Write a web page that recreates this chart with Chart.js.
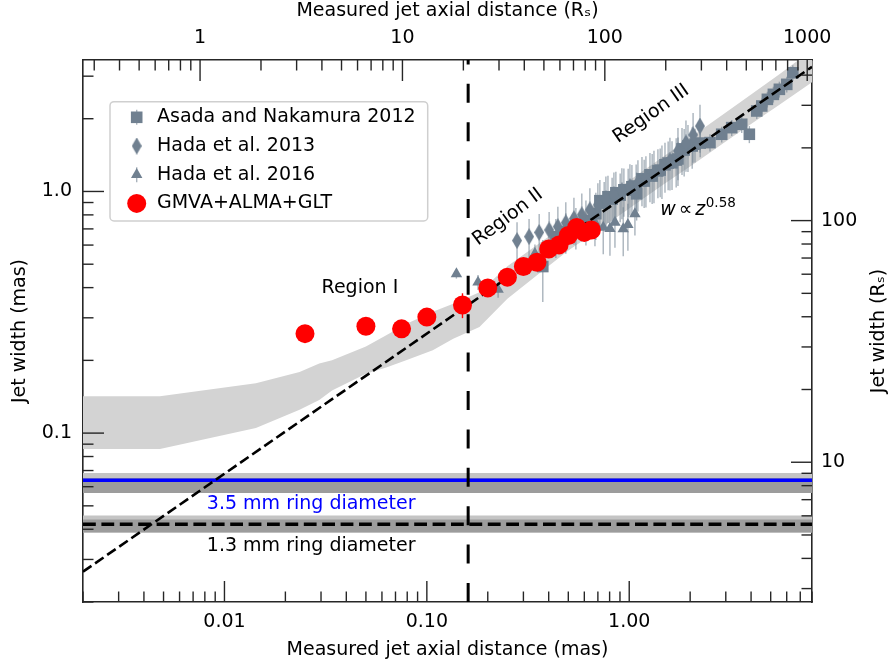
<!DOCTYPE html>
<html lang="en">
<head>
    <meta charset="UTF-8">
    <title>M87 jet width profile</title>
    <script src="https://cdn.jsdelivr.net/npm/chart.js"></script>
    <style>
        html, body { margin: 0; padding: 0; background: #fff; }
        #chart { display: block; }
    </style>
</head>
<body>
    <canvas id="chart" width="891" height="669"></canvas>

    <script>
        // axis limits (mas) and conversion to Schwarzschild radii
        const xRange = [0.002, 8];
        const yRange = [0.02, 3.5];
        const rsPerMas = 132;

        // labelled ticks
        const xTicks = [0.01, 0.1, 1];
        const xTickLabels = ['0.01', '0.10', '1.00'];
        const yTicks = [0.1, 1];
        const yTickLabels = ['0.1', '1.0'];
        const x2Ticks = [1, 10, 100, 1000];
        const x2TickLabels = ['1', '10', '100', '1000'];
        const y2Ticks = [10, 100];
        const y2TickLabels = ['10', '100'];

        // GMVA+ALMA+GLT
        const gmvaZ = [0.025, 0.05, 0.075, 0.1, 0.15, 0.2, 0.25, 0.3, 0.35, 0.4, 0.45, 0.5, 0.55, 0.6, 0.65];
        const gmvaW = [0.258, 0.277, 0.270, 0.302, 0.339, 0.399, 0.442, 0.489, 0.509, 0.578, 0.601, 0.657, 0.710, 0.677, 0.693];
        const gmvaErr = [0.02, 0.02, 0.02, 0.02, 0.04, 0.02, 0.02, 0.02, 0.03, 0.03, 0.03, 0.03, 0.03, 0.03, 0.03];

        // Asada and Nakamura 2012
        const asadaZ = [0.374, 0.434, 0.486, 0.545, 0.611, 0.684, 0.716, 0.752, 0.785, 0.823, 0.859, 0.902, 0.941, 0.988, 1.031, 1.082, 1.088, 1.156, 1.185, 1.266, 1.298, 1.386, 1.422, 1.502, 1.557, 1.627, 1.706, 1.741, 1.823, 1.868, 1.951, 2.047, 2.113, 2.242, 2.506, 2.864, 3.209, 3.596, 3.922, 4.267, 4.517, 4.815, 5.155, 5.519, 6.003, 6.43];
        const asadaW = [0.489, 0.650, 0.682, 0.715, 0.757, 0.809, 0.916, 0.895, 0.951, 0.930, 0.988, 0.966, 1.016, 1.013, 1.046, 1.053, 0.978, 1.128, 1.104, 1.172, 1.158, 1.217, 1.226, 1.289, 1.311, 1.314, 1.349, 1.363, 1.501, 1.484, 1.544, 1.542, 1.569, 1.586, 1.593, 1.725, 1.837, 1.897, 1.725, 2.153, 2.258, 2.406, 2.523, 2.647, 2.775, 3.098];
        const asadaErr = [0.14, 0.12, 0.13, 0.14, 0.16, 0.18, 0.20, 0.20, 0.21, 0.21, 0.22, 0.22, 0.23, 0.23, 0.24, 0.24, 0.22, 0.26, 0.25, 0.27, 0.27, 0.28, 0.28, 0.30, 0.30, 0.30, 0.31, 0.31, 0.33, 0.33, 0.34, 0.30, 0.25, 0.20, 0.13, 0.13, 0.14, 0.15, 0.14, 0.16, 0.17, 0.18, 0.19, 0.20, 0.21, 0.23];

        // Hada et al. 2013
        const hada13Z = [0.279, 0.320, 0.359, 0.402, 0.444, 0.486, 0.533, 0.583, 0.639, 0.700, 0.767, 0.840, 0.920, 1.008, 1.104, 1.209, 1.325, 1.451, 1.589, 1.741, 1.907, 2.068, 2.237];
        const hada13W = [0.626, 0.650, 0.677, 0.693, 0.715, 0.743, 0.772, 0.801, 0.840, 0.881, 0.933, 0.969, 1.007, 1.046, 1.086, 1.128, 1.183, 1.241, 1.339, 1.472, 1.588, 1.714, 1.866];
        const hada13Err = [0.12, 0.12, 0.13, 0.13, 0.15, 0.16, 0.17, 0.18, 0.19, 0.20, 0.22, 0.23, 0.24, 0.25, 0.26, 0.27, 0.29, 0.31, 0.33, 0.36, 0.38, 0.40, 0.42];

        // Hada et al. 2016
        const hada16Z = [0.140, 0.179, 0.225, 0.342, 0.677, 0.744, 0.803, 0.850, 0.934, 0.985, 1.067];
        const hada16W = [0.456, 0.421, 0.393, 0.553, 0.743, 0.710, 0.702, 0.745, 0.700, 0.729, 0.807];
        const hada16Err = [0.02, 0.03, 0.03, 0.05, 0.15, 0.16, 0.16, 0.16, 0.16, 0.16, 0.15];

        // model band (light grey)
        const bandZ = [0.002, 0.0048, 0.0143, 0.0235, 0.0294, 0.034, 0.05, 0.063, 0.079, 0.107, 0.135, 0.182, 0.25, 0.35, 0.5, 0.7, 1.0, 1.5, 2.0, 3.0, 4.0, 5.5, 8.0];
        const bandHigh = [0.142, 0.142, 0.161, 0.179, 0.194, 0.200, 0.228, 0.254, 0.283, 0.318, 0.343, 0.383, 0.49, 0.60, 0.745, 0.90, 1.11, 1.41, 1.67, 2.12, 2.52, 3.05, 3.85];
        const bandLow = [0.086, 0.086, 0.105, 0.125, 0.137, 0.150, 0.176, 0.187, 0.200, 0.220, 0.246, 0.275, 0.36, 0.45, 0.57, 0.69, 0.85, 1.08, 1.27, 1.61, 1.90, 2.28, 2.83];

        // power law fit w ~ z^0.58, end points
        const fitZ = [0.002, 8];
        const fitW = [0.0267, 3.28];

        // ring diameters: 3.5 mm, 1.3 mm
        const ringLabels = ['3.5 mm ring diameter', '1.3 mm ring diameter'];
        const ringW = [0.0638, 0.0420];
        const ringOuterTop = [0.0684, 0.0456];
        const ringInnerTop = [0.0652, 0.0439];
        const ringBottom = [0.0565, 0.0388];

        // region I / II boundary
        const regionEdgeZ = 0.16;

        const frameColor = '#262626';
        const slate = '#708090';
        const errColor = 'rgba(112,128,144,0.6)';
        const fontFamily = "'DejaVu Sans', 'Liberation Sans', sans-serif";

        Chart.defaults.font.family = fontFamily;
        Chart.defaults.color = '#000';

        const pts = (zs, ws) => zs.map((z, i) => ({ x: z, y: ws[i] }));
        const flat = (w) => [{ x: xRange[0], y: w }, { x: xRange[1], y: w }];

        // matplotlib style thin diamond
        function thinDiamond(w, h, color) {
            const c = document.createElement('canvas');
            c.width = w; c.height = h;
            const g = c.getContext('2d');
            g.fillStyle = color;
            g.beginPath();
            g.moveTo(w / 2, 0); g.lineTo(w, h / 2); g.lineTo(w / 2, h); g.lineTo(0, h / 2);
            g.closePath(); g.fill();
            return c;
        }
        const diamond = thinDiamond(10, 17, slate);

        // all 1..9 x 10^n positions inside the range
        function logTicks(min, max) {
            const out = [];
            for (let e = Math.floor(Math.log10(min)); e <= Math.ceil(Math.log10(max)); e++) {
                for (let k = 1; k < 10; k++) {
                    const v = k * Math.pow(10, e);
                    if (v >= min * 0.999 && v <= max * 1.001) out.push({ value: v, major: k === 1 });
                }
            }
            return out;
        }
        function pickLabel(v, ticks, labels) {
            const i = ticks.findIndex(t => Math.abs(Math.log10(t) - Math.log10(v)) < 1e-6);
            return i < 0 ? '' : labels[i];
        }

        const hidden = { showLine: true, pointRadius: 0, borderWidth: 0, borderColor: 'rgba(0,0,0,0)' };

        const datasets = [
            // 0,1 model band
            { ...hidden, data: pts(bandZ, bandHigh), fill: { target: 1 }, backgroundColor: '#d3d3d3', order: 30 },
            { ...hidden, data: pts(bandZ, bandLow), fill: false, order: 30 },
            // 2,3,4 ring 3.5 mm band
            { ...hidden, data: flat(ringOuterTop[0]), fill: { target: 4 }, backgroundColor: '#c4c4c4', order: 29 },
            { ...hidden, data: flat(ringInnerTop[0]), fill: { target: 4 }, backgroundColor: '#9c9c9c', order: 28 },
            { ...hidden, data: flat(ringBottom[0]), fill: false, order: 28 },
            // 5,6,7 ring 1.3 mm band
            { ...hidden, data: flat(ringOuterTop[1]), fill: { target: 7 }, backgroundColor: '#c4c4c4', order: 29 },
            { ...hidden, data: flat(ringInnerTop[1]), fill: { target: 7 }, backgroundColor: '#9c9c9c', order: 28 },
            { ...hidden, data: flat(ringBottom[1]), fill: false, order: 28 },
            // ring diameters
            { data: flat(ringW[0]), showLine: true, pointRadius: 0, borderColor: '#0000ff', borderWidth: 3.5, order: 27 },
            { data: flat(ringW[1]), showLine: true, pointRadius: 0, borderColor: '#000', borderWidth: 3.5, borderDash: [12.8, 5.6], order: 27 },
            // observations
            { label: 'Asada and Nakamura 2012', inLegend: true, data: pts(asadaZ, asadaW), yErr: asadaErr,
              pointStyle: 'rect', pointRadius: 8.2, backgroundColor: slate, borderWidth: 0, order: 25 },
            { label: 'Hada et al. 2013', inLegend: true, data: pts(hada13Z, hada13W), yErr: hada13Err,
              pointStyle: diamond, pointRadius: 8, backgroundColor: slate, borderWidth: 0, order: 24 },
            { label: 'Hada et al. 2016', inLegend: true, data: pts(hada16Z, hada16W), yErr: hada16Err,
              pointStyle: 'triangle', pointRadius: 6.6, backgroundColor: slate, borderWidth: 0, order: 23 },
            // fit
            { data: pts(fitZ, fitW), showLine: true, pointRadius: 0, borderColor: '#000', borderWidth: 2.6, borderDash: [10.3, 4.4], order: 22 },
            { label: 'GMVA+ALMA+GLT', inLegend: true, data: pts(gmvaZ, gmvaW), yErr: gmvaErr, errColor: '#ff0000',
              pointStyle: 'circle', pointRadius: 9.5, backgroundColor: '#ff0000', borderWidth: 0, order: 21 },
            // region boundary
            { data: [{ x: regionEdgeZ, y: yRange[0] }, { x: regionEdgeZ, y: yRange[1] }], showLine: true, pointRadius: 0,
              borderColor: '#000', borderWidth: 3, borderDash: [19, 19.4], order: 20 }
        ];

        // text annotations, placed in data coordinates
        const notes = [
            { text: 'Region I', z: 0.0467, w: 0.398, angle: 0, color: '#000' },
            { text: 'Region II', z: 0.2517, w: 0.783, angle: -37, color: '#000' },
            { text: 'Region III', z: 1.2835, w: 2.092, angle: -35, color: '#000' },
            { text: ringLabels[0], z: 0.02682, w: 0.0508, angle: 0, color: '#0000ff' },
            { text: ringLabels[1], z: 0.02682, w: 0.0340, angle: 0, color: '#000' }
        ];
        const powerLawAt = { z: 1.422, w: 0.798 };

        const errorBars = {
            id: 'errorBars',
            beforeDatasetDraw(chart, args) {
                const ds = chart.data.datasets[args.index];
                if (!ds.yErr) return;
                const { ctx, chartArea: a } = chart;
                const xs = chart.scales.x, ys = chart.scales.y;
                ctx.save();
                ctx.beginPath(); ctx.rect(a.left, a.top, a.right - a.left, a.bottom - a.top); ctx.clip();
                ctx.strokeStyle = ds.errColor || errColor;
                ctx.lineWidth = 1.4;
                ds.data.forEach((p, i) => {
                    const e = ds.yErr[i];
                    const px = xs.getPixelForValue(p.x);
                    ctx.beginPath();
                    ctx.moveTo(px, ys.getPixelForValue(Math.max(p.y - e, 1e-4)));
                    ctx.lineTo(px, ys.getPixelForValue(p.y + e));
                    ctx.stroke();
                });
                ctx.restore();
            }
        };

        const annotations = {
            id: 'annotations',
            afterDatasetsDraw(chart) {
                const { ctx } = chart;
                const xs = chart.scales.x, ys = chart.scales.y;
                ctx.save();
                notes.forEach(n => {
                    ctx.save();
                    ctx.translate(xs.getPixelForValue(n.z), ys.getPixelForValue(n.w));
                    ctx.rotate(n.angle * Math.PI / 180);
                    ctx.font = '19px ' + fontFamily;
                    ctx.fillStyle = n.color;
                    ctx.textAlign = 'center';
                    ctx.textBaseline = 'middle';
                    ctx.fillText(n.text, 0, 0);
                    ctx.restore();
                });
                // w ∝ z^0.58
                let x = xs.getPixelForValue(powerLawAt.z);
                const yb = ys.getPixelForValue(powerLawAt.w);
                ctx.fillStyle = '#000';
                ctx.textBaseline = 'alphabetic';
                ctx.textAlign = 'left';
                const parts = [
                    ['italic 19px ' + fontFamily, 'w', 0, 3],
                    ['19px ' + fontFamily, '\u221D', 0, 3],
                    ['italic 19px ' + fontFamily, 'z', 0, 0.5],
                    ['13.5px ' + fontFamily, '0.58', -8.5, 0]
                ];
                parts.forEach(([font, t, dy, gap]) => {
                    ctx.font = font;
                    ctx.fillText(t, x, yb + dy);
                    x += ctx.measureText(t).width + gap;
                });
                ctx.restore();
            }
        };

        const frameTicks = {
            id: 'frameTicks',
            afterDraw(chart) {
                const { ctx, chartArea: a } = chart;
                ctx.save();
                ctx.strokeStyle = frameColor;
                ctx.lineWidth = 1.4;
                ['x', 'x2', 'y', 'y2'].forEach(id => {
                    const s = chart.scales[id];
                    s.ticks.forEach(t => {
                        const p = s.getPixelForValue(t.value);
                        const len = t.major ? 21 : 10.5;
                        ctx.beginPath();
                        if (s.position === 'bottom') { ctx.moveTo(p, a.bottom); ctx.lineTo(p, a.bottom - len); }
                        else if (s.position === 'top') { ctx.moveTo(p, a.top); ctx.lineTo(p, a.top + len); }
                        else if (s.position === 'left') { ctx.moveTo(a.left, p); ctx.lineTo(a.left + len, p); }
                        else { ctx.moveTo(a.right, p); ctx.lineTo(a.right - len, p); }
                        ctx.stroke();
                    });
                });
                // right axis title, reading bottom to top
                ctx.fillStyle = '#000';
                ctx.font = '19px ' + fontFamily;
                ctx.textAlign = 'center';
                ctx.textBaseline = 'middle';
                ctx.translate(879.5, (a.top + a.bottom) / 2);
                ctx.rotate(-Math.PI / 2);
                ctx.fillText('Jet width (R\u209B)', 0, 0);
                ctx.restore();
            }
        };

        const legendBox = {
            id: 'legendBox',
            afterDraw(chart) {
                const { ctx } = chart;
                const items = chart.data.datasets.filter(d => d.inLegend);
                const box = { x: 110, y: 101.7, w: 317.7, h: 119.3, r: 4 };
                ctx.save();
                ctx.beginPath();
                ctx.roundRect(box.x, box.y, box.w, box.h, box.r);
                ctx.fillStyle = 'rgba(255,255,255,0.8)';
                ctx.fill();
                ctx.strokeStyle = '#cfcfcf';
                ctx.lineWidth = 1.5;
                ctx.stroke();
                items.forEach((d, i) => {
                    const cy = box.y + 15.6 + i * 28.7;
                    const cx = box.x + 26.7;
                    if (!d.errColor) {
                        ctx.strokeStyle = errColor;
                        ctx.lineWidth = 1.4;
                        ctx.beginPath(); ctx.moveTo(cx, cy - 7.5); ctx.lineTo(cx, cy + 7.5); ctx.stroke();
                    }
                    ctx.fillStyle = d.backgroundColor;
                    Chart.helpers.drawPoint(ctx, { pointStyle: d.pointStyle, radius: d.pointRadius, rotation: 0, borderWidth: 0 }, cx, cy);
                    ctx.fillStyle = '#000';
                    ctx.font = '19px ' + fontFamily;
                    ctx.textAlign = 'left';
                    ctx.textBaseline = 'middle';
                    ctx.fillText(d.label, box.x + 47, cy);
                });
                ctx.restore();
            }
        };

        function logAxis(position, range, ticks, labels, size, pad, title) {
            const horizontal = position === 'top' || position === 'bottom';
            return {
                type: 'logarithmic',
                position: position,
                min: range[0],
                max: range[1],
                afterBuildTicks: s => { s.ticks = logTicks(s.min, s.max); },
                afterFit: s => { if (horizontal) s.height = size; else s.width = size; },
                grid: { display: false, drawTicks: false },
                border: { display: true, color: frameColor, width: 1.6 },
                ticks: {
                    autoSkip: false, maxRotation: 0, padding: pad, color: '#000',
                    font: { size: 19 },
                    callback: v => pickLabel(v, ticks, labels)
                },
                title: title
            };
        }

        new Chart(document.getElementById('chart'), {
            type: 'scatter',
            data: { datasets: datasets },
            options: {
                responsive: false,
                animation: false,
                layout: { padding: 0 },
                plugins: { legend: { display: false }, tooltip: { enabled: false } },
                scales: {
                    x: logAxis('bottom', xRange, xTicks, xTickLabels, 67, 8.3,
                        { display: true, text: 'Measured jet axial distance (mas)', color: '#000', font: { size: 19 }, padding: { top: 0, bottom: 7.2 } }),
                    x2: logAxis('top', [xRange[0] * rsPerMas, xRange[1] * rsPerMas], x2Ticks, x2TickLabels, 60, 10.6,
                        { display: true, text: 'Measured jet axial distance (R\u209B)', color: '#000', font: { size: 19, lineHeight: 1.13 }, padding: { top: 0, bottom: 0 } }),
                    y: logAxis('left', yRange, yTicks, yTickLabels, 83, 11,
                        { display: true, text: 'Jet width (mas)', color: '#000', font: { size: 19 }, padding: { top: 9, bottom: 0 } }),
                    y2: logAxis('right', [yRange[0] * rsPerMas, yRange[1] * rsPerMas], y2Ticks, y2TickLabels, 79, 9,
                        { display: false })
                }
            },
            plugins: [errorBars, annotations, frameTicks, legendBox]
        });
    </script>
</body>
</html>
